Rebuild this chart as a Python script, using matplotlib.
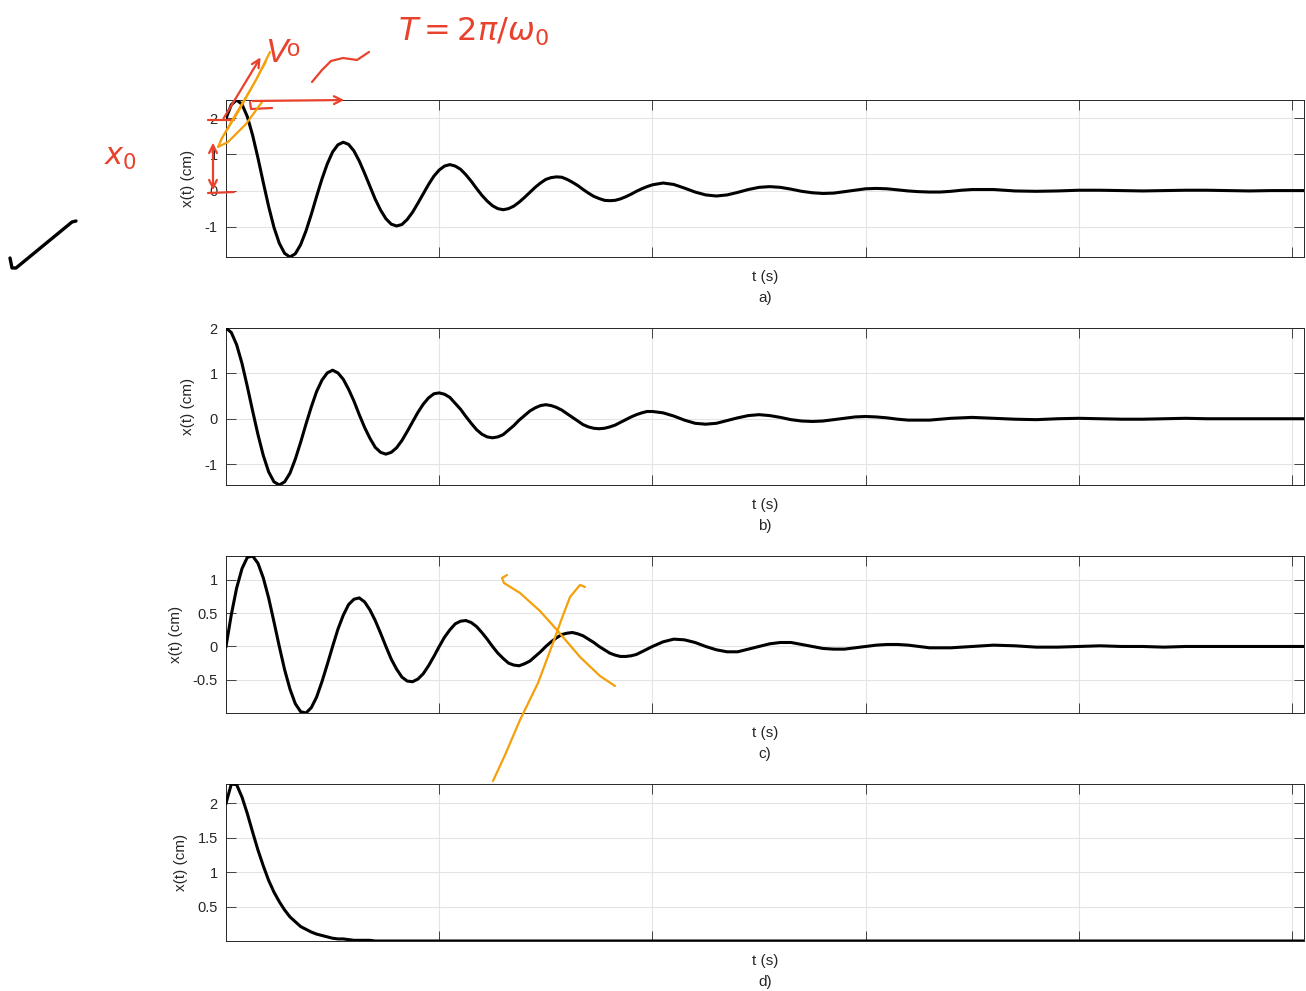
import numpy as np
import matplotlib
matplotlib.use('Agg')
import matplotlib.pyplot as plt

plt.rcParams['font.family'] = ['Liberation Sans', 'DejaVu Sans']

# time samples (s): 0.25 s steps to 20 s, 0.5 s steps to 35 s, then 1 s steps
t_s = np.concatenate([np.arange(0, 20, 0.25), np.arange(20, 35, 0.5), np.arange(35, 50.5, 1.0), [50.5]])

# x(t) in cm at the times above
x_a = [2, 2.38, 2.51, 2.39, 2.05, 1.53, .9, .22, -.44, -1.02,
       -1.46, -1.74, -1.84, -1.75, -1.5, -1.12, -.66, -.16, .32, .74,
       1.07, 1.27, 1.34, 1.28, 1.1, .82, .48, .12, -.24, -.54,
       -.78, -.93, -.98, -.94, -.8, -.6, -.35, -.09, .17, .4,
       .57, .68, .72, .68, .59, .44, .26, .06, -.13, -.29,
       -.42, -.5, -.53, -.5, -.43, -.32, -.19, -.05, .09, .21,
       .31, .36, .38, .37, .31, .23, .14, .03, -.07, -.16,
       -.22, -.27, -.28, -.27, -.23, -.17, -.1, -.02, .05, .11,
       .16, .21, .17, .07, -.04, -.12, -.15, -.12, -.05, .03,
       .09, .11, .09, .04, -.02, -.06, -.08, -.07, -.03, .01,
       .05, .06, .05, .02, -.01, -.03, -.04, -.04, -.02, .01,
       .03, .03, -.01, -.02, -.01, .01, .01, 0, -.01, 0,
       .01, .01, 0, -.01, 0, 0, 0]
x_b = [2, 1.9, 1.63, 1.22, .71, .17, -.35, -.81, -1.17, -1.39,
       -1.46, -1.39, -1.2, -.89, -.52, -.12, .26, .6, .85, 1.01,
       1.07, 1.01, .87, .65, .39, .09, -.19, -.43, -.63, -.74,
       -.78, -.74, -.64, -.48, -.28, -.07, .14, .32, .46, .55,
       .57, .54, .47, .34, .21, .05, -.1, -.24, -.34, -.4,
       -.42, -.4, -.35, -.25, -.15, -.03, .07, .17, .24, .29,
       .31, .29, .25, .19, .11, .03, -.05, -.13, -.18, -.21,
       -.22, -.21, -.18, -.14, -.08, -.02, .04, .09, .13, .16,
       .16, .13, .06, -.03, -.1, -.12, -.1, -.04, .02, .07,
       .09, .07, .03, -.02, -.05, -.06, -.05, -.02, .01, .04,
       .05, .04, .02, -.01, -.03, -.03, -.03, -.01, .01, .02,
       .03, .01, -.01, -.02, 0, .01, 0, -.01, -.01, 0,
       .01, 0, 0, 0, 0, 0, 0]
x_c = [0, .48, .88, 1.17, 1.34, 1.36, 1.25, 1.03, .73, .37,
       0, -.35, -.64, -.86, -.98, -1, -.92, -.76, -.53, -.27,
       0, .26, .47, .63, .71, .73, .67, .55, .39, .2,
       0, -.19, -.34, -.46, -.52, -.53, -.49, -.41, -.29, -.15,
       0, .14, .25, .34, .38, .39, .36, .3, .21, .11,
       0, -.1, -.18, -.25, -.28, -.29, -.26, -.22, -.15, -.08,
       0, .07, .13, .18, .2, .21, .19, .16, .11, .06,
       0, -.05, -.1, -.13, -.15, -.15, -.14, -.12, -.08, -.04,
       0, .07, .11, .1, .06, 0, -.05, -.08, -.08, -.04,
       0, .04, .06, .06, .03, 0, -.03, -.04, -.04, -.02,
       0, .02, .03, .03, .02, 0, -.02, -.02, -.02, -.01,
       0, .02, .01, -.01, -.01, 0, .01, 0, 0, -.01,
       0, 0, 0, 0, 0, 0, 0]
x_d = [2, 2.28, 2.27, 2.09, 1.85, 1.58, 1.32, 1.09, .88, .71,
       .57, .45, .35, .28, .21, .17, .13, .1, .08, .06,
       .04, .03, .03, .02, .01, .01, .01, .01] + [0] * 99

panel_names = ['a)', 'b)', 'c)', 'd)']
y_ticks = [[-1, 0, 1, 2], [-1, 0, 1, 2], [-0.5, 0, 0.5, 1], [0.5, 1, 1.5, 2]]
y_ticklabels = [['-1', '0', '1', '2'], ['-1', '0', '1', '2'], ['-0.5', '0', '0.5', '1'], ['0.5', '1', '1.5', '2']]
x_ticks = [10, 20, 30, 40, 50]

dark = '#262626'
fig = plt.figure(figsize=(13.06, 9.91), dpi=100)
tops = [100, 328, 556, 784]
for i, y in enumerate([x_a, x_b, x_c, x_d]):
    y = np.array(y)
    ax = fig.add_axes([226 / 1306, 1 - (tops[i] + 157) / 991, 1078 / 1306, 157 / 991])
    ax.plot(t_s, y, color='k', lw=2.2, zorder=3, solid_joinstyle='round')
    ax.set_xlim(0, 50.56)
    ax.set_ylim(y.min(), y.max())
    ax.set_xticks(x_ticks)
    ax.set_xticklabels([])
    ax.set_yticks(y_ticks[i])
    ax.set_yticklabels(y_ticklabels[i])
    ax.grid(True, color='#e4e4e4', lw=0.8)
    ax.set_axisbelow(True)
    ax.tick_params(direction='in', length=7.5, width=0.6, color=dark, labelcolor=dark,
                   labelsize=10.5, top=True, right=True, pad=6)
    for s in ax.spines.values():
        s.set_color(dark)
        s.set_linewidth(0.7)
    ax.set_ylabel('x(t) (cm)', fontsize=11, color=dark, labelpad=7)
    ax.set_xlabel('t (s)\n' + panel_names[i], fontsize=11, color=dark, linespacing=1.7, labelpad=3)

# hand-drawn marks on top, in pixel coordinates
red = '#e8412c'
orange = '#f5a00a'
ov = fig.add_axes([0, 0, 1, 1], zorder=10)
ov.set_xlim(0, 1306)
ov.set_ylim(991, 0)
ov.axis('off')
ov.patch.set_visible(False)

def stroke(pts, color, lw=1.6):
    p = np.array(pts, dtype=float)
    ov.plot(p[:, 0], p[:, 1], color=color, lw=lw, solid_capstyle='round', solid_joinstyle='round')

def arrow(p0, p1, color, style='->'):
    ov.annotate('', xy=p1, xytext=p0,
                arrowprops=dict(arrowstyle=style, color=color, lw=1.6, mutation_scale=14))

arrow((222, 121), (262, 55), red)
arrow((250, 101), (347, 100), red)
arrow((213, 140), (213, 193), red, '<->')
stroke([(208, 120), (234, 120)], red)
stroke([(208, 193), (234, 192)], red)
stroke([(250, 102), (251, 109), (272, 108)], red)
stroke([(312, 82), (322, 70), (331, 61), (343, 58), (357, 60), (369, 52)], red)
ov.text(265, 54, 'V', color=red, fontsize=24, style='italic', va='center')
ov.text(287, 50, 'o', color=red, fontsize=17, va='center')
ov.text(398, 32, r'$T = 2\pi/\omega_0$', color=red, fontsize=23, va='center')
ov.text(120, 157, r'$x_0$', color=red, fontsize=22, ha='center', va='center')
stroke([(270, 52), (256, 80), (238, 112), (222, 138), (218, 147), (228, 142), (246, 124), (262, 102)], orange)
stroke([(266, 62), (250, 90), (232, 120), (220, 142)], orange, 1.2)
stroke([(10, 258), (12, 268), (16, 268), (72, 222), (76, 221)], 'k', 2.4)
stroke([(507, 575), (502, 578), (504, 583), (520, 593), (540, 611), (557, 630), (580, 657), (600, 676), (615, 686)], orange)
stroke([(493, 781), (505, 755), (520, 720), (538, 683), (553, 643), (562, 618), (570, 597), (580, 585), (585, 587)], orange)

fig.savefig('out.png')
